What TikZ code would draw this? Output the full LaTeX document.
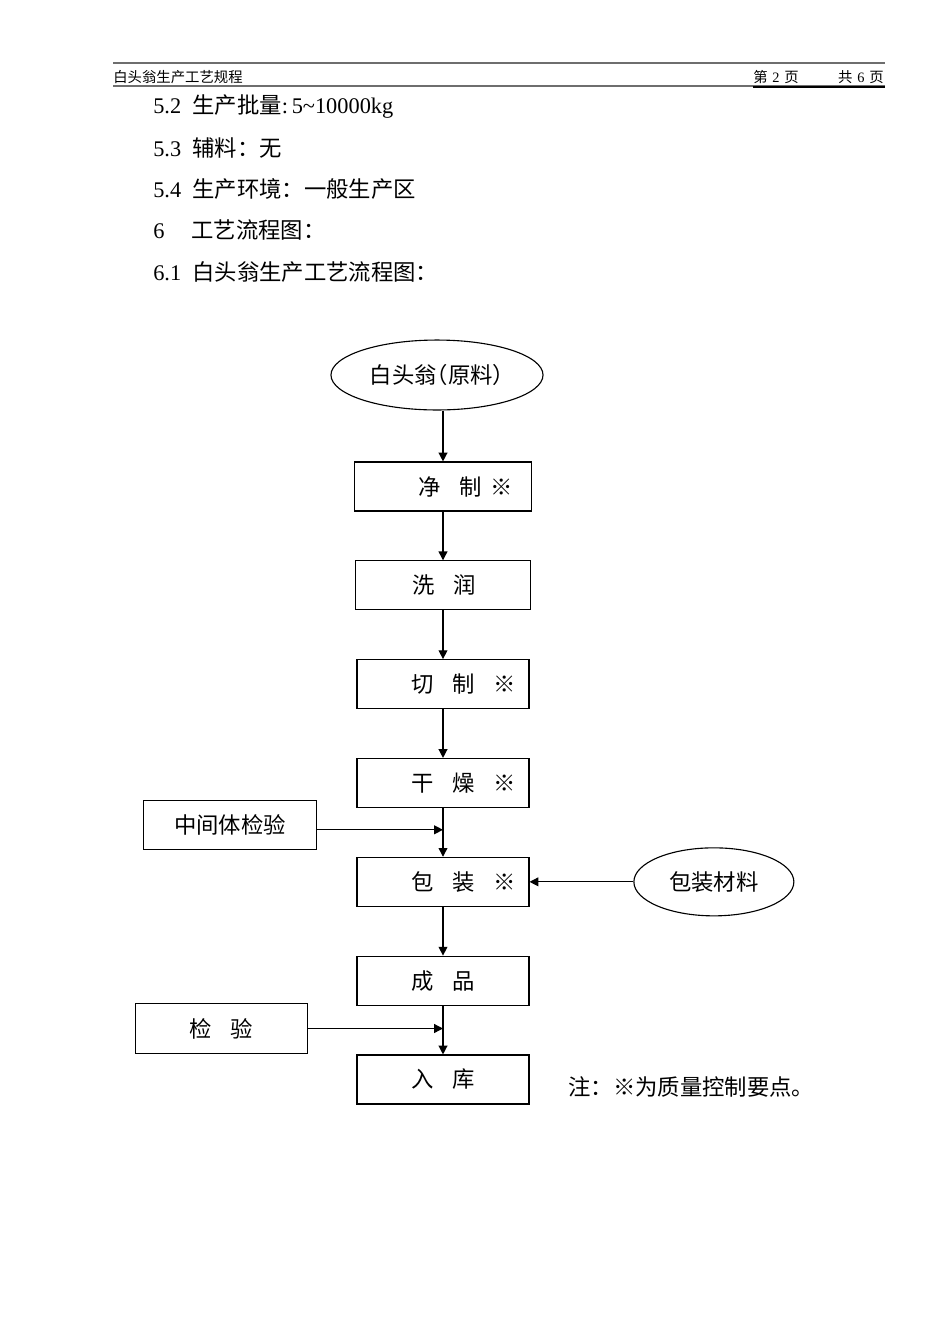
\documentclass[tikz,border=0pt]{standalone}
\usepackage{fontspec}
\setmainfont{Liberation Serif}
\newfontfamily\cjk{Noto Sans CJK SC}
\newfontfamily\cjkh[RawFeature=+halt]{Noto Sans CJK SC}
\usepackage{tikz}
\usetikzlibrary{
  arrows.meta,
  shapes.geometric,
  positioning
}
\definecolor{pcLine}{HTML}{000000}
\definecolor{pcRule}{HTML}{6E6E6E}
\newcommand{\pcgap}{\hspace{11.5pt}}
\newcommand{\pcind}{\hspace*{34.4pt}}
\tikzset{
  pcnode/.style={
    draw=pcLine, line width=0.7pt, font=\cjk\fontsize{14pt}{16pt}\selectfont
  },
  pcstep/.style={pcnode, rectangle, minimum height=30.7pt, text width=107.7pt,
    inner xsep=0pt, inner ysep=0pt, align=left},
  pcside/.style={pcnode, rectangle, minimum height=31pt, minimum width=108pt,
    inner sep=0pt, align=center},
  pcsrc/.style={pcnode, ellipse, inner sep=0pt, align=center},
  pcflow/.style={-{Triangle[length=5.5pt,width=5.5pt]}, line width=0.8pt, pcLine},
  pctext/.style={font=\fontsize{14pt}{16pt}\selectfont, anchor=west, inner sep=0pt},
  pcnote/.style={font=\cjk\fontsize{14pt}{16pt}\selectfont, anchor=west, inner sep=0pt},
  pchead/.style={font=\cjk\fontsize{9pt}{11pt}\selectfont, inner sep=0pt},
  pcrule/.style={pcRule, line width=1pt}
}

\begin{document}
\begin{tikzpicture}[x=0.6263pt, y=-0.6263pt, node distance=30.5pt]
  \useasboundingbox (0,0) rectangle (950,1344);
  % header
  \draw[pcrule] (113,63) -- (885,63);
  \node[pchead, anchor=west] (ht) at (113,77) {白头翁生产工艺规程};
  \node[pchead, anchor=west] (hp) at (753,77) {第\hspace{3pt}{\rmfamily 2}\hspace{3pt}页};
  \node[pchead, anchor=east] (hq) at (884,77) {共\hspace{3pt}{\rmfamily 6}\hspace{3pt}页};
  \draw[pcrule] (113,86) -- (885,86);
  \draw[line width=1.4pt] (hp.west |- 0,87) -- (885,87);
  % text lines
  \node[pctext] (l52) at (153,107) {5.2\hspace{0.5em}{\cjk 生产批量}:\,5\textasciitilde10000kg};
  \node[pctext] (l53) at (153,148) {5.3\hspace{0.5em}{\cjk 辅料：无}};
  \node[pctext] (l54) at (153,189) {5.4\hspace{0.5em}{\cjk 生产环境：一般生产区}};
  \node[pctext] (l6)  at (153,230) {6\hspace{1.2em}{\cjk 工艺流程图：}};
  \node[pctext] (l61) at (153,272) {6.1\hspace{0.5em}{\cjk 白头翁生产工艺流程图：}};
  % flow chart
  \node[pcsrc, minimum width=132.8pt, minimum height=43.8pt] (raw) at (437,375) {\cjkh 白头翁（原料）};
  \node[pcstep, text width=110.9pt] (js) at (443,486.5) {\hspace*{40pt}净\pcgap 制\hspace{6pt}※};
  \node[pcstep, text width=109.6pt, below=of js] (xr) {\hspace*{35.7pt}洗\pcgap 润};
  \node[pcstep, below=of xr] (qz) {\pcind 切\pcgap 制\pcgap ※};
  \node[pcstep, below=of qz] (gz) {\pcind 干\pcgap 燥\pcgap ※};
  \node[pcstep, below=of gz] (bz) {\pcind 包\pcgap 装\pcgap ※};
  \node[pcstep, below=of bz] (cp) {\pcind 成\pcgap 品};
  \node[pcstep, below=of cp] (rk) {\pcind 入\pcgap 库};
  \node[pcside] (zj) at (230,825) {中间体检验};
  \node[pcside] (jy) at (221.5,1028.5) {检\pcgap 验};
  \node[pcsrc, minimum width=100.2pt, minimum height=42.6pt, right=65pt of bz] (bc) {包装材料};
  \node[pcnote] (nt) at (568,1087) {注：※为质量控制要点。};
  \draw[pcflow] (raw.south -| js.north) -- (js.north);
  \draw[pcflow] (js) -- (xr);
  \draw[pcflow] (xr) -- (qz);
  \draw[pcflow] (qz) -- (gz);
  \draw[pcflow] (gz) -- (bz);
  \draw[pcflow] (bz) -- (cp);
  \draw[pcflow] (cp) -- (rk);
  \draw[pcflow] ([yshift=-3pt]zj.east) -- ([yshift=-3pt]zj.east -| bz.north);
  \draw[pcflow] (jy.east) -- (jy.east -| rk.north);
  \draw[pcflow] (bc) -- (bz);
\end{tikzpicture}
\end{document}
